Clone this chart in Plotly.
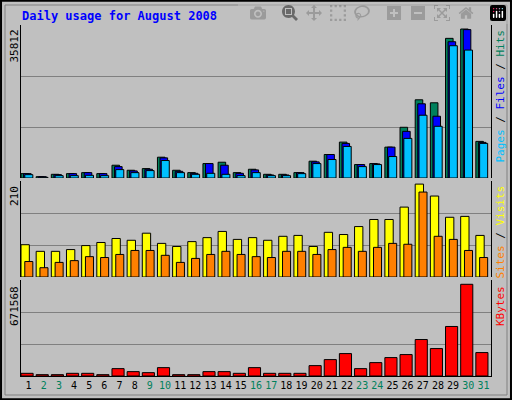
import plotly.graph_objects as go

days = list(range(1, 32))
weekend = [2, 3, 9, 10, 16, 17, 23, 24, 30, 31]
hits = [1050,320,890,1050,1290,1050,3070,1860,2260,5000,1860,1290,3470,3790,1290,2100,890,890,1290,4040,5650,8630,3230,3470,7420,12190,18800,18080,33570,35812,8800]
files = [1050,320,810,1050,1290,1050,2740,1700,2100,4840,1610,1130,3470,3070,1130,1940,730,730,1290,3870,5650,8310,3230,3390,7420,11220,17840,14850,32760,35670,8560]
pages = [800,161,565,565,646,565,2020,1290,1780,4200,1290,890,1130,890,565,1290,565,565,1050,3470,4440,7590,2740,3230,5160,9520,15090,12430,31800,30750,8320]
visits = [73,58,58,62,71,78,87,83,99,76,69,80,89,103,85,89,83,92,94,69,101,96,114,130,130,158,210,183,135,137,94]
sites = [35,21,33,37,46,44,51,60,60,49,33,42,51,58,51,46,44,58,58,51,62,67,58,67,76,74,192,92,85,60,44]
kbytes = [19600,9800,9800,19600,19600,9800,53900,31900,24500,61300,9800,9800,31900,31900,19600,61300,19600,19600,19600,76000,120100,164200,53900,98000,134800,156900,267100,201000,362700,671568,171600]

fig = go.Figure()
ln = dict(color="black", width=1)
def bar(y, color, off, w, ax):
    fig.add_trace(go.Bar(x=days, y=y, marker=dict(color=color, line=ln), offset=off, width=w,
                         xaxis="x", yaxis=ax, showlegend=False))
bar(hits, "#00805C", -0.5, 0.5, "y")
bar(files, "#0000FF", -0.33, 0.5, "y")
bar(pages, "#00C0FF", -0.25, 0.53, "y")
bar(visits, "#FFFF00", -0.5, 0.55, "y2")
bar(sites, "#FF8000", -0.25, 0.53, "y2")
bar(kbytes, "#FF0000", -0.5, 0.8, "y3")

mono = "DejaVu Sans Mono"
ticktext = [f"<span style='color:#00805C'>{d}</span>" if d in weekend else str(d) for d in days]
def yax(dom, top):
    return dict(domain=dom, range=[0, top], tickvals=[top/3, 2*top/3], showticklabels=False,
                showgrid=True, gridcolor="#808080", gridwidth=1, zeroline=False,
                showline=True, linecolor="black", mirror=True, ticks="", anchor="x")
fig.update_layout(
    width=512, height=400, margin=dict(l=0, r=0, t=0, b=0),
    paper_bgcolor="#C0C0C0", plot_bgcolor="#C0C0C0", barmode="overlay",
    font=dict(family=mono, size=11, color="black"),
    xaxis=dict(domain=[21/512, 491/512], range=[0.5, 31.5], tickvals=days, ticktext=ticktext,
               anchor="y3", showline=True, linecolor="black", ticks="", showgrid=False,
               tickangle=0, tickfont=dict(family=mono, size=10)),
    yaxis=yax([0.555, 0.9375], 36780),
    yaxis2=yax([0.3075, 0.5475], 217),
    yaxis3=yax([0.06, 0.30], 703000),
)
anns = [
    dict(x=20/512, y=1-7/400, text="<b>Daily usage for August 2008</b>", font=dict(color="#0000FF", size=12, family=mono), xanchor="left", yanchor="top"),
    dict(x=14/512, y=1-28/400, text="35812", textangle=-90, xanchor="center", yanchor="top"),
    dict(x=14/512, y=1-184/400, text="210", textangle=-90, xanchor="center", yanchor="top"),
    dict(x=14/512, y=1-284/400, text="671568", textangle=-90, xanchor="center", yanchor="top"),
    dict(x=500/512, y=1-28/400, text="<span style='color:#00C0FF'>Pages</span> / <span style='color:#0000FF'>Files</span> / <span style='color:#00805C'>Hits</span>", textangle=-90, xanchor="center", yanchor="top"),
    dict(x=500/512, y=1-184/400, text="<span style='color:#FF8000'>Sites</span> / <span style='color:#FFFF00'>Visits</span>", textangle=-90, xanchor="center", yanchor="top"),
    dict(x=500/512, y=1-284/400, text="<span style='color:#FF0000'>KBytes</span>", textangle=-90, xanchor="center", yanchor="top"),
]
for a in anns:
    a.update(xref="paper", yref="paper", showarrow=False)
fig.update_layout(annotations=anns)
fig.add_shape(type="rect", xref="paper", yref="paper", x0=0.002, y0=0.002, x1=0.998, y1=0.998,
              line=dict(color="black", width=2))
fig.add_shape(type="rect", xref="paper", yref="paper", x0=5/512, y0=5/400, x1=1-5/512, y1=1-5/400,
              line=dict(color="#808080", width=1))
fig.write_html("out.html")
with open("out.html") as f:
    html = f.read()
html = html.replace("<head>", "<head><style>html,body{margin:0;padding:0;overflow:hidden}</style>", 1)
with open("out.html", "w") as f:
    f.write(html)
